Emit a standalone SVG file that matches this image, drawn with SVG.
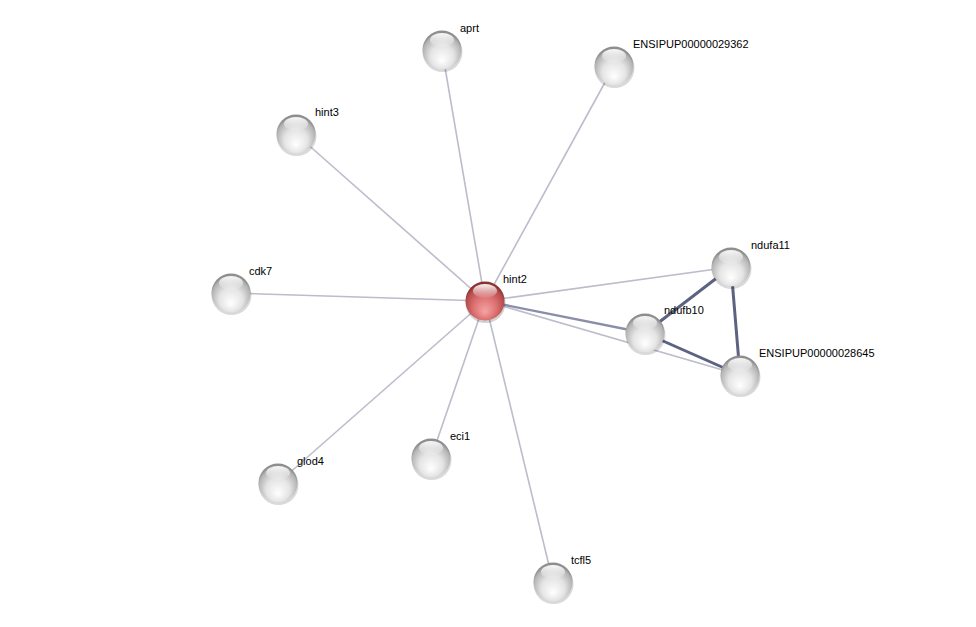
<svg xmlns="http://www.w3.org/2000/svg" width="976" height="627" viewBox="0 0 976 627">
<defs>
<radialGradient id="gw" cx="0.5" cy="0.6" r="0.55" fx="0.5" fy="0.78">
<stop offset="0" stop-color="#ffffff"/>
<stop offset="0.55" stop-color="#e4e4e4"/>
<stop offset="0.9" stop-color="#b4b4b4"/>
<stop offset="1" stop-color="#8e8e8e"/>
</radialGradient>
<radialGradient id="gr" cx="0.5" cy="0.6" r="0.55" fx="0.5" fy="0.78">
<stop offset="0" stop-color="#f7a4a4"/>
<stop offset="0.55" stop-color="#dc7070"/>
<stop offset="0.9" stop-color="#b44a4a"/>
<stop offset="1" stop-color="#8c3030"/>
</radialGradient>
<linearGradient id="hl" x1="0" y1="0" x2="0" y2="1">
<stop offset="0" stop-color="#ffffff" stop-opacity="0.95"/>
<stop offset="1" stop-color="#ffffff" stop-opacity="0.05"/>
</linearGradient>
<g id="sph">
<ellipse cx="0.5" cy="2" rx="20" ry="20" fill="#000" opacity="0.15"/>
<circle r="19.5" fill="url(#gw)"/>
<ellipse cx="0" cy="-10" rx="12" ry="7" fill="url(#hl)"/>
</g>
<g id="sphr">
<ellipse cx="0.5" cy="2" rx="20" ry="20" fill="#000" opacity="0.18"/>
<circle r="19.5" fill="url(#gr)"/>
<ellipse cx="0" cy="-10" rx="12" ry="7" fill="url(#hl)"/>
</g>
</defs>
<style>
.e{stroke:#bcbccc;stroke-width:1.6;fill:none}
.s{stroke:#5c6282;stroke-width:3;fill:none}
.m{stroke:#8a8ea8;stroke-width:2.4;fill:none}
text{font-family:"Liberation Sans",Arial,sans-serif;font-size:11px;fill:#000}
</style>
<rect width="976" height="627" fill="#fff"/>
<g id="edges">
<line class="e" x1="485" y1="301" x2="442" y2="50"/>
<line class="e" x1="485" y1="301" x2="614" y2="66"/>
<line class="e" x1="485" y1="301" x2="296" y2="134"/>
<line class="e" x1="485" y1="301" x2="231" y2="293"/>
<line class="e" x1="485" y1="301" x2="731" y2="267"/>
<line class="e" x1="485" y1="301" x2="740" y2="375"/>
<line class="m" x1="485" y1="301" x2="645" y2="333"/>
<line class="e" x1="485" y1="301" x2="431" y2="458"/>
<line class="e" x1="485" y1="301" x2="278" y2="483"/>
<line class="e" x1="485" y1="301" x2="553" y2="582"/>
<line class="s" x1="645" y1="333" x2="731" y2="267"/>
<line class="s" x1="645" y1="333" x2="740" y2="375"/>
<line class="s" x1="731" y1="267" x2="740" y2="375"/>
</g>
<g id="n-aprt"><use href="#sph" x="442" y="50"/><text x="460" y="32">aprt</text></g>
<g id="n-ENSIPUP00000029362"><use href="#sph" x="614" y="66"/><text x="633" y="48">ENSIPUP00000029362</text></g>
<g id="n-hint3"><use href="#sph" x="296" y="134"/><text x="315" y="116">hint3</text></g>
<g id="n-cdk7"><use href="#sph" x="231" y="293"/><text x="249" y="275">cdk7</text></g>
<g id="n-ndufa11"><use href="#sph" x="731" y="267"/><text x="751" y="249">ndufa11</text></g>
<g id="n-ndufb10"><use href="#sph" x="645" y="333"/><text x="664" y="314">ndufb10</text></g>
<g id="n-ENSIPUP00000028645"><use href="#sph" x="740" y="375"/><text x="759" y="357">ENSIPUP00000028645</text></g>
<g id="n-eci1"><use href="#sph" x="431" y="458"/><text x="450" y="440">eci1</text></g>
<g id="n-glod4"><use href="#sph" x="278" y="483"/><text x="297" y="465">glod4</text></g>
<g id="n-tcfl5"><use href="#sph" x="553" y="582"/><text x="571" y="564">tcfl5</text></g>
<g id="n-hint2"><use href="#sphr" x="485" y="301"/><text x="503" y="283">hint2</text></g>
</svg>
